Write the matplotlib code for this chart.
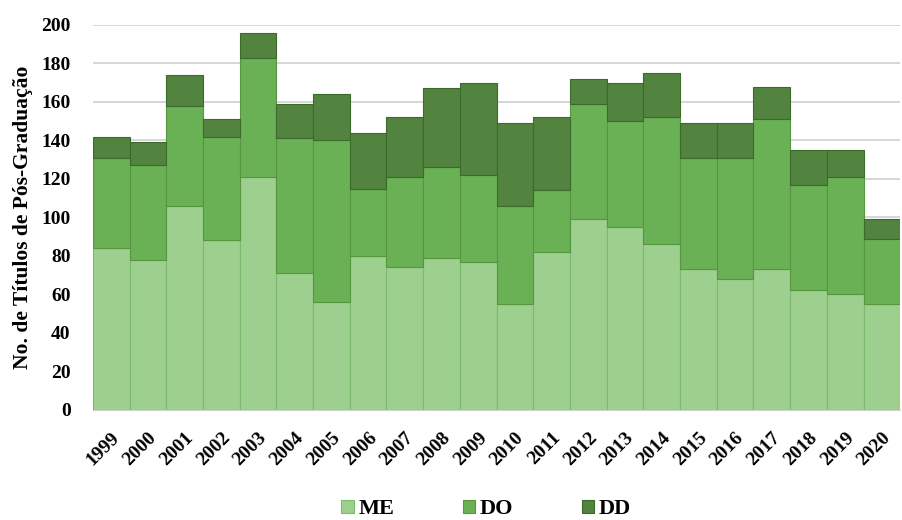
import matplotlib.pyplot as plt
import numpy as np

plt.rcParams['font.family'] = ['Liberation Serif', 'DejaVu Serif']
plt.rcParams['font.weight'] = 'bold'

years = [str(y) for y in range(1999, 2021)]
me = [84, 78, 106, 88, 121, 71, 56, 80, 74, 79, 77, 55, 82, 99, 95, 86, 73, 68, 73, 62, 60, 55]
do = [47, 49, 52, 54, 62, 70, 84, 35, 47, 47, 45, 51, 32, 60, 55, 66, 58, 63, 78, 55, 61, 34]
dd = [11, 12, 16, 9, 13, 18, 24, 29, 31, 41, 48, 43, 38, 13, 20, 23, 18, 18, 17, 18, 14, 10]

me = np.array(me)
do = np.array(do)
dd = np.array(dd)
x = np.arange(len(years))

fig = plt.figure(figsize=(9.02, 5.2), dpi=100)
ax = fig.add_axes([0.103, 0.212, 0.895, 0.74])

ax.bar(x, me, width=1.0, color='#9dd08f', edgecolor='#7cbb6b', linewidth=0.8, label='ME', zorder=3)
ax.bar(x, do, width=1.0, bottom=me, color='#6ab155', edgecolor='#56963f', linewidth=0.8, label='DO', zorder=3)
ax.bar(x, dd, width=1.0, bottom=me + do, color='#52843f', edgecolor='#3b6a2c', linewidth=0.8, label='DD', zorder=3)

ax.set_xlim(-0.5, len(years) - 0.5)
ax.set_ylim(0, 200)
ax.set_yticks(range(0, 201, 20))
ax.yaxis.grid(True, color='#d0d0d0', linewidth=1.2, zorder=0)
ax.set_axisbelow(True)
for s in ['top', 'right', 'left']:
    ax.spines[s].set_visible(False)
ax.spines['bottom'].set_color('#d0d0d0')
ax.tick_params(axis='both', length=0, labelsize=14)
ax.tick_params(axis='y', pad=16)
ax.set_xticks(x)
ax.set_xticklabels(years, rotation=45, ha='right', rotation_mode='anchor', fontsize=14)
ax.tick_params(axis='x', pad=14)
ax.set_ylabel('No. de Títulos de Pós-Graduação', fontsize=15.5, fontweight='bold', labelpad=6)

fig.legend(loc='center', bbox_to_anchor=(0.539, 0.021), ncol=3, frameon=False,
           fontsize=16, handlelength=0.55, handleheight=0.55, handletextpad=0.2,
           columnspacing=3.1, borderpad=0.1)

fig.savefig('out.png', dpi=100)
